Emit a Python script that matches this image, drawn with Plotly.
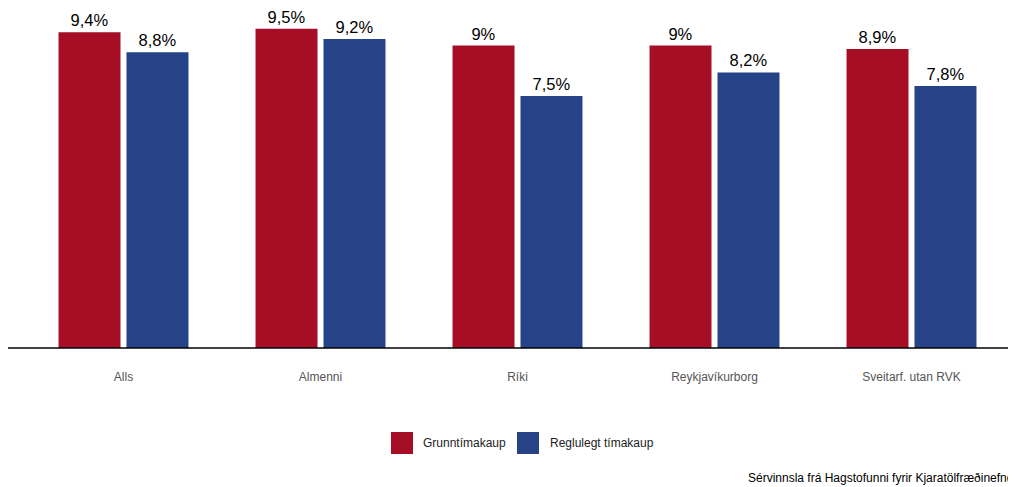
import plotly.graph_objects as go

categories = ["Alls", "Almenni", "Ríki", "Reykjavíkurborg", "Sveitarf. utan RVK"]
grunn = [9.4, 9.5, 9.0, 9.0, 8.9]
reglu = [8.8, 9.2, 7.5, 8.2, 7.8]
series_names = ["Grunntímakaup", "Reglulegt tímakaup"]
colors = ["#A50E24", "#254386"]
source_text = "Sérvinnsla frá Hagstofunni fyrir Kjaratölfræðinefnd"

def fmt(v):
    return f"{v:g}".replace(".", ",") + "%"

# page body has an 8px margin; figure coordinates = picture - 8
W, H = 1016, 487
ml, mr, mt, mb = 17, 14, 2, 147
pw, ph = W - ml - mr, H - mt - mb

def px(x):  # figure px -> paper x
    return (x - ml) / pw

def py(y):  # figure px -> paper y
    return (H - mb - y) / ph

fig = go.Figure()
for name, vals, col in zip(series_names, [grunn, reglu], colors):
    fig.add_trace(go.Bar(
        x=categories, y=vals, name=name, marker_color=col, marker_line_width=0,
        text=[fmt(v) for v in vals], textposition="outside",
        textfont=dict(size=16.5, color="#000000", family="Liberation Sans, Arial"),
        cliponaxis=False, showlegend=False,
    ))

shapes = [dict(type="line", xref="paper", yref="paper", x0=px(-10), x1=px(1020),
               y0=0, y1=0, line=dict(color="#000000", width=1.5))]
annotations = []
legend_pos = [(383, 413), (509, 540)]  # square left, text left (figure px)
for (sx, tx), name, col in zip(legend_pos, series_names, colors):
    shapes.append(dict(type="rect", xref="paper", yref="paper",
                       x0=px(sx), x1=px(sx + 22), y0=py(424), y1=py(446),
                       fillcolor=col, line=dict(width=0)))
    annotations.append(dict(text=name, xref="paper", yref="paper", x=px(tx), xanchor="left",
                            y=py(435), yanchor="middle", showarrow=False,
                            font=dict(size=12, color="#222222")))
annotations.append(dict(text=source_text, xref="paper", yref="paper",
                        x=px(738), xanchor="left", y=py(470), yanchor="middle",
                        showarrow=False, font=dict(size=12, color="#000000")))

fig.update_layout(
    width=W, height=H,
    margin=dict(l=ml, r=mr, t=mt, b=mb),
    plot_bgcolor="white", paper_bgcolor="white",
    barmode="group", bargap=0.31, bargroupgap=0.088,
    font=dict(family="Liberation Sans, Arial", color="#444444"),
    showlegend=False,
    xaxis=dict(showline=False, ticks="outside", ticklen=18, tickcolor="rgba(0,0,0,0)",
               tickfont=dict(size=12, color="#555555")),
    yaxis=dict(range=[0, 10.06], visible=False, showgrid=False),
    shapes=shapes,
    annotations=annotations,
)

fig.write_html("out.html")
